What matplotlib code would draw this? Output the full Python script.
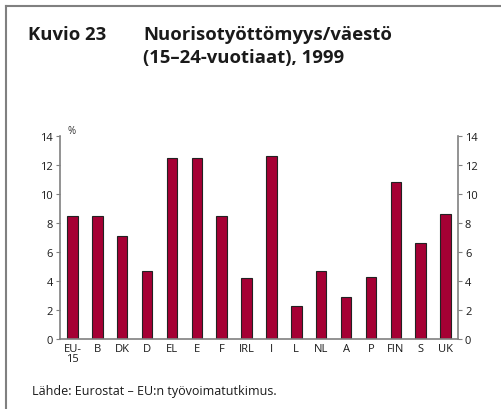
'''Nuorisotyöttömyys/väestö bar chart.'''

import matplotlib
matplotlib.use('Agg')
import matplotlib.pyplot as plt
from matplotlib.lines import Line2D

# data
countries = ['EU-\n15', 'B', 'DK', 'D', 'EL', 'E', 'F', 'IRL', 'I',
             'L', 'NL', 'A', 'P', 'FIN', 'S', 'UK']
values = [8.5, 8.5, 7.1, 4.7, 12.5, 12.5, 8.5, 4.2, 12.6,
          2.3, 4.7, 2.9, 4.3, 10.8, 6.6, 8.6]
yticks = [0, 2, 4, 6, 8, 10, 12, 14]

plt.rcParams['font.family'] = ['Open Sans', 'DejaVu Sans']
GRAY = '#808080'
TXT = '#1a1a1a'

fig = plt.figure(figsize=(5.02, 4.10), dpi=100)

# outer frame (top and left only)
fig.add_artist(Line2D([6/502, 1], [1-7/410, 1-7/410], color=GRAY, lw=1.5))
fig.add_artist(Line2D([6/502, 6/502], [0, 1-7/410], color=GRAY, lw=1.5))

# title
title_kw = dict(fontsize=13.3, fontweight='bold', va='center', color=TXT)
fig.text(28/502, 1-35/410, 'Kuvio 23', **title_kw)
fig.text(143/502, 1-35/410, 'Nuorisotyöttömyys/väestö', **title_kw)
fig.text(143/502, 1-58/410, '(15–24-vuotiaat), 1999', **title_kw)

# source
fig.text(32/502, 1-392/410, 'Lähde: Eurostat – EU:n työvoimatutkimus.',
         fontsize=9, va='center', color=TXT)

ax = fig.add_axes([60/502, 1-340/410, (458-60)/502, (340-137)/410])
x = range(len(countries))
ax.bar(x, values, width=0.42, color='#A50034', edgecolor='#222222', lw=0.8)

ax.set_xlim(-0.5, len(countries)-0.5)
ax.set_ylim(0, 14)
ax.set_yticks(yticks)
ax.set_xticks(list(x))
ax.set_xticklabels(countries, fontsize=8, linespacing=0.85, color=TXT)
ax.tick_params(axis='x', length=0, pad=3)
ax.tick_params(axis='y', labelsize=8, length=3, color=GRAY, direction='out',
               right=True, labelright=True, pad=2, labelcolor=TXT)

ax.spines['top'].set_visible(False)
for side in ('left', 'right', 'bottom'):
    ax.spines[side].set_color(GRAY)
    ax.spines[side].set_linewidth(1.2)

ax.text(0.02, 1.0, '%', transform=ax.transAxes, fontsize=7, va='bottom',
        color='#333333')

fig.savefig('out.png', dpi=100)
